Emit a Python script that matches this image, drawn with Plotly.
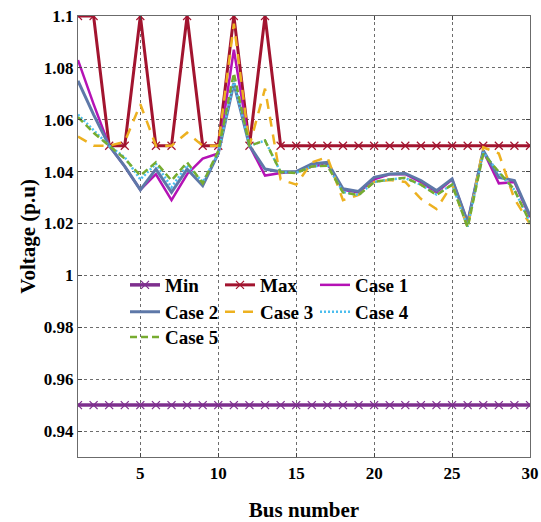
import plotly.graph_objects as go

buses = list(range(1, 31))
v_min = [0.95] * 30
v_max = [1.10, 1.10, 1.05, 1.05, 1.10, 1.05, 1.05, 1.10, 1.05, 1.05,
         1.10, 1.05, 1.10, 1.05, 1.05, 1.05, 1.05, 1.05, 1.05, 1.05,
         1.05, 1.05, 1.05, 1.05, 1.05, 1.05, 1.05, 1.05, 1.05, 1.05]
case1 = [1.083, 1.066, 1.050, 1.042, 1.033, 1.039, 1.029, 1.039, 1.045, 1.047,
         1.087, 1.050, 1.0385, 1.0395, 1.040, 1.042, 1.043, 1.033, 1.032, 1.037,
         1.039, 1.039, 1.036, 1.032, 1.037, 1.0205, 1.048, 1.0355, 1.036, 1.0224]
case2 = [1.075, 1.062, 1.050, 1.042, 1.033, 1.041, 1.032, 1.041, 1.0346, 1.047,
         1.074, 1.050, 1.041, 1.040, 1.040, 1.043, 1.0436, 1.0334, 1.0324, 1.0378,
         1.0391, 1.0393, 1.0366, 1.0327, 1.0372, 1.0205, 1.0481, 1.0378, 1.0366, 1.023]
case3 = [1.0535, 1.050, 1.050, 1.0515, 1.066, 1.050, 1.050, 1.055, 1.050, 1.050,
         1.097, 1.050, 1.072, 1.037, 1.035, 1.0436, 1.0456, 1.029, 1.031, 1.036,
         1.0368, 1.036, 1.0295, 1.0256, 1.035, 1.0185, 1.0494, 1.047, 1.0295, 1.0198]
case4 = [1.062, 1.056, 1.050, 1.0455, 1.037, 1.043, 1.034, 1.0425, 1.036, 1.047,
         1.075, 1.050, 1.052, 1.0398, 1.0395, 1.042, 1.0425, 1.0322, 1.031, 1.036,
         1.037, 1.0375, 1.035, 1.0312, 1.035, 1.0188, 1.0475, 1.0395, 1.033, 1.0205]
case5 = [1.061, 1.055, 1.050, 1.045, 1.0385, 1.0436, 1.0366, 1.0436, 1.0355, 1.048,
         1.078, 1.050, 1.052, 1.0398, 1.0395, 1.042, 1.0423, 1.032, 1.031, 1.036,
         1.037, 1.0376, 1.035, 1.031, 1.035, 1.0185, 1.0469, 1.040, 1.033, 1.0205]

x_ticks = [5, 10, 15, 20, 25, 30]
y_ticks = [0.94, 0.96, 0.98, 1.0, 1.02, 1.04, 1.06, 1.08, 1.1]
y_tick_text = ["0.94", "0.96", "0.98", "1", "1.02", "1.04", "1.06", "1.08", "1.1"]

FONT = "Liberation Serif"

fig = go.Figure()

fig.add_trace(go.Scatter(x=buses, y=v_min, name="Min", mode="lines+markers",
                         line=dict(color="#7E2F8E", width=3.5),
                         marker=dict(symbol="x-thin", size=8, line=dict(color="#7E2F8E", width=1.2)),
                         legend="legend"))
fig.add_trace(go.Scatter(x=buses, y=v_max, name="Max", mode="lines+markers",
                         line=dict(color="#A2142F", width=3),
                         marker=dict(symbol="x-thin", size=8, line=dict(color="#A2142F", width=1.2)),
                         legend="legend"))
fig.add_trace(go.Scatter(x=buses, y=case1, name="Case 1", mode="lines",
                         line=dict(color="#B512B5", width=2.5), legend="legend"))
fig.add_trace(go.Scatter(x=buses, y=case2, name="Case 2", mode="lines",
                         line=dict(color="#5E78A8", width=3), legend="legend2"))
fig.add_trace(go.Scatter(x=buses, y=case3, name="Case 3", mode="lines",
                         line=dict(color="#EDB120", width=2.5, dash="10px,8px"), legend="legend2"))
fig.add_trace(go.Scatter(x=buses, y=case4, name="Case 4", mode="lines",
                         line=dict(color="#4DBEEE", width=2.5, dash="2px,2px"), legend="legend2"))
fig.add_trace(go.Scatter(x=buses, y=case5, name="Case 5", mode="lines",
                         line=dict(color="#77AC30", width=2.5, dash="7px,4px"), legend="legend3"))

leg_common = dict(orientation="h", xanchor="left", yanchor="middle",
                  bgcolor="rgba(0,0,0,0)", borderwidth=0,
                  font=dict(family=FONT, size=19, color="black", weight="bold"),
                  entrywidth=50, entrywidthmode="pixels", tracegroupgap=0,
                  itemwidth=30)

fig.update_layout(
    width=541, height=522,
    margin=dict(l=78, r=11, t=16, b=65, autoexpand=False),
    plot_bgcolor="white", paper_bgcolor="white",
    font=dict(family=FONT, size=17, color="black"),
    showlegend=True,
    legend=dict(x=0.104, y=0.39, **leg_common),
    legend2=dict(x=0.104, y=0.329, **leg_common),
    legend3=dict(x=0.104, y=0.272, **leg_common),
    xaxis=dict(
        range=[1, 30], tickvals=x_ticks, ticks="inside", ticklen=4,
        tickfont=dict(family=FONT, size=17, color="black", weight="bold"),
        showgrid=True, gridcolor="rgba(60,60,60,0.75)", griddash="3px,3px", gridwidth=1,
        showline=True, linecolor="#6b6b6b", linewidth=1.2, mirror="ticks",
        zeroline=False, automargin=False,
        title=dict(text="<b>Bus number</b>", font=dict(family=FONT, size=21, color="black"), standoff=20),
    ),
    yaxis=dict(
        range=[0.93, 1.1], tickvals=y_ticks, ticktext=y_tick_text, ticks="inside", ticklen=4,
        tickfont=dict(family=FONT, size=17, color="black", weight="bold"),
        showgrid=True, gridcolor="rgba(60,60,60,0.75)", griddash="3px,3px", gridwidth=1,
        showline=True, linecolor="#6b6b6b", linewidth=1.2, mirror="ticks",
        zeroline=False, automargin=False,
        title=dict(text="<b>Voltage (p.u)</b>", font=dict(family=FONT, size=21, color="black"), standoff=2),
    ),
)

fig.write_html("out.html", config={"displayModeBar": False},
               post_script="document.body.style.margin='0';")
